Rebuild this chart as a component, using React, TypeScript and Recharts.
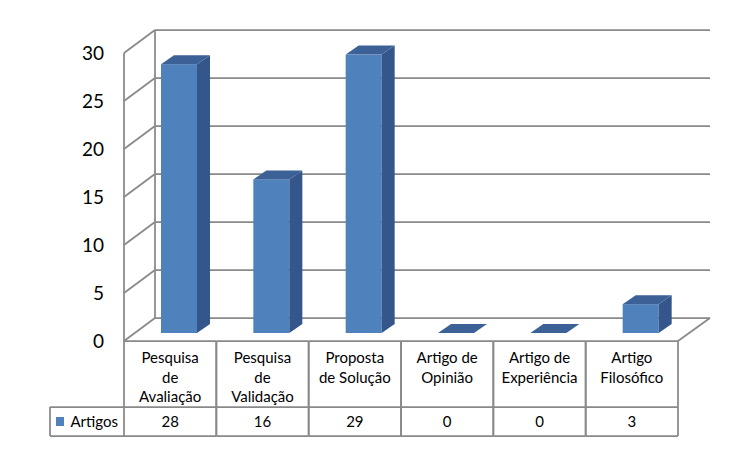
import { BarChart, Bar, XAxis, YAxis, CartesianGrid } from 'recharts';

const categories = [
  'Pesquisa\nde\nAvaliação',
  'Pesquisa\nde\nValidação',
  'Proposta\nde Solução',
  'Artigo de\nOpinião',
  'Artigo de\nExperiência',
  'Artigo\nFilosófico',
];
const artigos = [28, 16, 29, 0, 0, 3];
const yTicks = [0, 5, 10, 15, 20, 25, 30];
const seriesName = 'Artigos';

const data = categories.map((c, i) => ({ category: c, value: artigos[i] }));

const GRID = '#898989';
const FONT = 'Lato, "Open Sans", sans-serif';
// offset of the back wall relative to the front plane
const BACK_DX = 31;
const BACK_DY = -23;
// bars sit a bit inside the depth
const BAR_DX = 9;
const BAR_DY = -8;
const DEPTH_DX = 13;
const DEPTH_DY = -9;

function Bar3D(props: any) {
  const { x, y, width, height } = props;
  const fx = x + BAR_DX;
  const fy = y + BAR_DY;
  const w = width;
  const h = Math.max(height, 0);
  const top = `${fx},${fy} ${fx + DEPTH_DX},${fy + DEPTH_DY} ${fx + w + DEPTH_DX},${fy + DEPTH_DY} ${fx + w},${fy}`;
  const side = `${fx + w},${fy} ${fx + w + DEPTH_DX},${fy + DEPTH_DY} ${fx + w + DEPTH_DX},${fy + h + DEPTH_DY} ${fx + w},${fy + h}`;
  return (
    <g>
      {h > 0 && <rect x={fx} y={fy} width={w} height={h} fill="#4f81bd" />}
      {h > 0 && <polygon points={side} fill="#34568a" />}
      <polygon points={top} fill="#3b6197" />
    </g>
  );
}

function GridLine(props: any) {
  const { x1, x2, y1, index, y, height } = props;
  const bx1 = x1 + BACK_DX;
  const bx2 = x2 + BACK_DX + 1;
  const by = y1 + BACK_DY;
  const plotTop = y ?? 53;
  const plotBottom = (y ?? 53) + (height ?? 288);
  const isFloor = Math.abs(y1 - plotBottom) < 1;
  return (
    <g key={`grid-${index}`}>
      <line x1={bx1} y1={by} x2={bx2} y2={by} stroke={GRID} strokeWidth={1.75} />
      <line x1={x1} y1={y1} x2={bx1} y2={by} stroke={GRID} strokeWidth={1.75} />
      {index === 0 && (
        <line x1={bx1} y1={plotTop + BACK_DY} x2={bx1} y2={plotBottom + BACK_DY} stroke={GRID} strokeWidth={1.75} />
      )}
      {isFloor && (
        <line x1={x2} y1={y1} x2={bx2} y2={by} stroke={GRID} strokeWidth={1.75} />
      )}
    </g>
  );
}

function TableTick(props: any) {
  const { x, y, payload, index } = props;
  const half = payload?.offset || props.width / props.visibleTicksCount / 2;
  const left = x - half;
  const right = x + half;
  const rowMid = y + 66;
  const rowBot = y + 95;
  const lines = String(payload.value).split('\n');
  return (
    <g>
      <line x1={left} y1={y} x2={right} y2={y} stroke={GRID} strokeWidth={1.75} />
      <line x1={left} y1={rowMid} x2={right} y2={rowMid} stroke={GRID} strokeWidth={1.75} />
      <line x1={left} y1={rowBot} x2={right} y2={rowBot} stroke={GRID} strokeWidth={1.75} />
      <line x1={left} y1={y} x2={left} y2={rowBot} stroke={GRID} strokeWidth={1.75} />
      <line x1={right} y1={y} x2={right} y2={rowBot} stroke={GRID} strokeWidth={1.75} />
      {lines.map((ln, i) => (
        <text key={i} x={x} y={y + 22 + i * 19.5} textAnchor="middle" fontFamily={FONT} fontSize={15} fill="#000">
          {ln}
        </text>
      ))}
      <text x={x} y={rowMid + 20} textAnchor="middle" fontFamily={FONT} fontSize={15} fill="#000">
        {artigos[index]}
      </text>
      {index === 0 && (
        <g>
          <line x1={left - 74} y1={rowMid} x2={left} y2={rowMid} stroke={GRID} strokeWidth={1.75} />
          <line x1={left - 74} y1={rowBot} x2={left} y2={rowBot} stroke={GRID} strokeWidth={1.75} />
          <line x1={left - 74} y1={rowMid} x2={left - 74} y2={rowBot} stroke={GRID} strokeWidth={1.75} />
          <rect x={left - 68} y={rowMid + 10} width={8} height={9} fill="#4f81bd" />
          <text x={left - 6} y={rowMid + 20} textAnchor="end" fontFamily={FONT} fontSize={15} fill="#000">
            {seriesName}
          </text>
        </g>
      )}
    </g>
  );
}

export default function App() {
  return (
    <div style={{ position: 'absolute', left: 0, top: 0, background: '#fff' }}>
      <BarChart
        width={750}
        height={450}
        data={data}
        margin={{ top: 53, right: 72, left: 64, bottom: 0 }}
      >
        <CartesianGrid vertical={false} horizontal={GridLine} />
        <XAxis
          dataKey="category"
          interval={0}
          axisLine={false}
          tickLine={false}
          tickSize={0}
          tickMargin={0}
          height={109}
          tick={(p: any) => <TableTick {...p} />}
        />
        <YAxis
          domain={[0, 30]}
          ticks={yTicks}
          width={60}
          tickLine={false}
          tickSize={0}
          tickMargin={20}
          axisLine={{ stroke: GRID, strokeWidth: 1.75 }}
          tick={{ fontFamily: FONT, fontSize: 19, fill: '#000' }}
        />
        <Bar dataKey="value" name={seriesName} barSize={36} shape={Bar3D} isAnimationActive={false} />
      </BarChart>
    </div>
  );
}
